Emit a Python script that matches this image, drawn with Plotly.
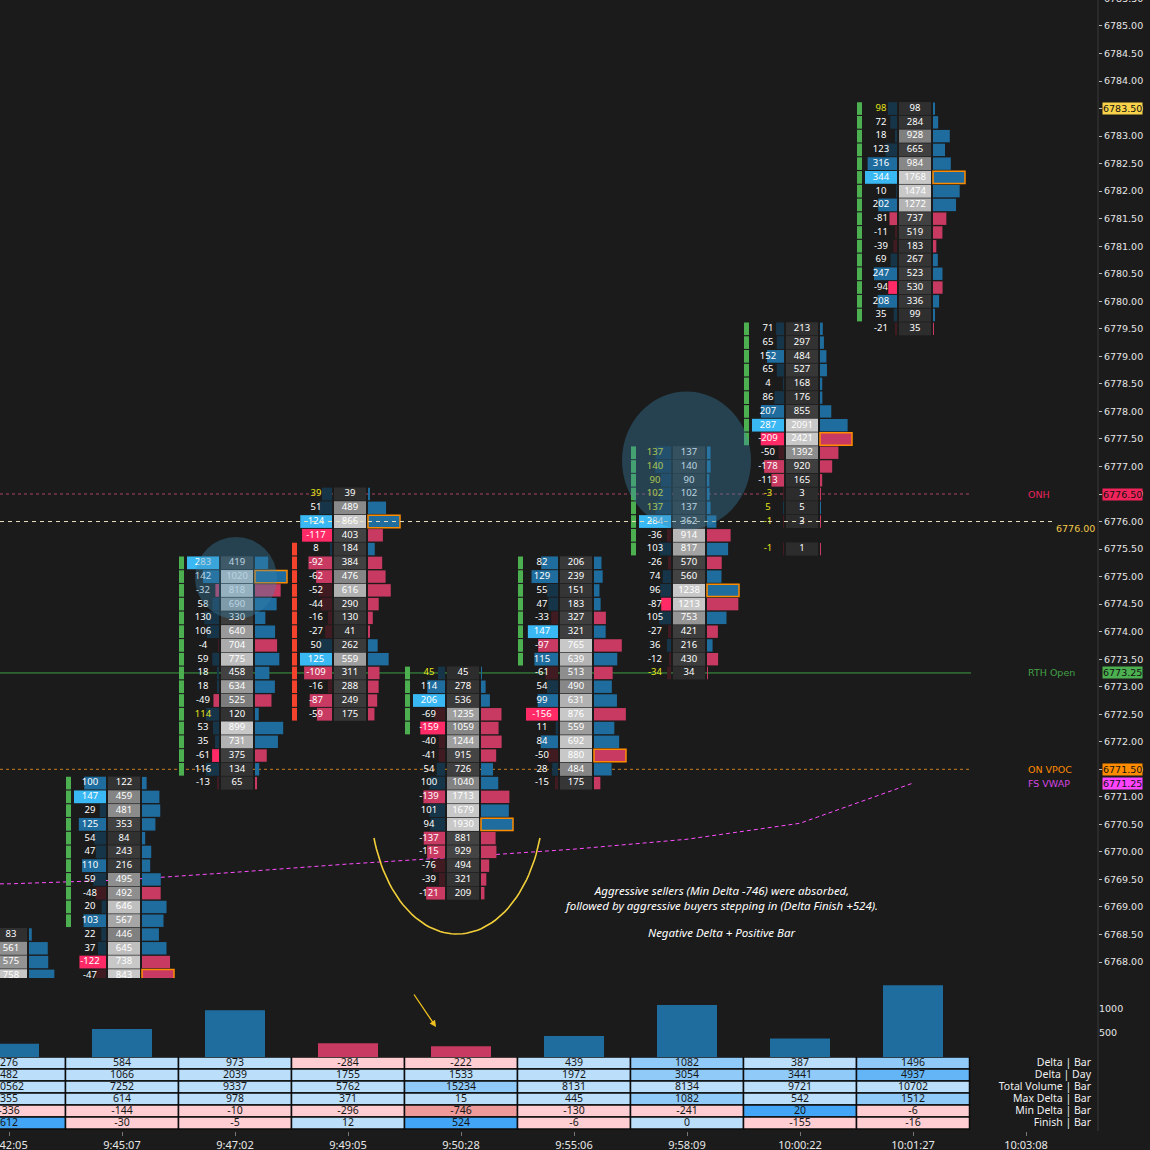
import numpy as np
import plotly.graph_objects as go

# ---------------- data ----------------
TIMES = ["9:42:05", "9:45:07", "9:47:02", "9:49:05", "9:50:28",
         "9:55:06", "9:58:09", "10:00:22", "10:01:27", "10:03:08"]


def ladder(top, n):
    return [round(top - 0.25 * k, 2) for k in range(n)]


# bar 0 (only its volume column is on screen)
B0_PRICE = ladder(6768.50, 5)
B0_DELTA = [None, None, None, None, None]
B0_SIGN = [1, 1, 1, 1, 1]
B0_VOL = [83, 561, 575, 758, 957]
B0_OC = None

B1_PRICE = ladder(6771.25, 16)
B1_DELTA = [100, 147, 29, 125, 54, 47, 110, 59, -48, 20, 103, 22, 37, -122, -47, -52]
B1_VOL = [122, 459, 481, 353, 84, 243, 216, 495, 492, 646, 567, 446, 645, 738, 843, 422]
B1_OC = (6768.75, 6771.25)

B2_PRICE = ladder(6775.25, 17)
B2_DELTA = [283, 142, -32, 58, 130, 106, -4, 59, 18, 18, -49, 114, 53, 35, -61, 116, -13]
B2_VOL = [419, 1020, 818, 690, 330, 640, 704, 775, 458, 634, 525, 120, 899, 731, 375, 134, 65]
B2_OC = (6771.50, 6775.25)

B3_PRICE = ladder(6776.50, 17)
B3_DELTA = [39, 51, 124, -117, 8, -92, -62, -52, -44, -16, -27, 50, 125, -109, -16, -87, -59]
B3_VOL = [39, 489, 866, 403, 184, 384, 476, 616, 290, 130, 41, 262, 559, 311, 288, 249, 175]
B3_OC = (6775.50, 6772.50)

B4_PRICE = ladder(6773.25, 17)
B4_DELTA = [45, 114, 206, -69, -159, -40, -41, 54, 100, -139, 101, 94, -137, -115, -76, -39, -121]
B4_VOL = [45, 278, 536, 1235, 1059, 1244, 915, 726, 1040, 1713, 1679, 1930, 881, 929, 494, 321, 209]
B4_OC = (6772.25, 6773.25)

B5_PRICE = ladder(6775.25, 17)
B5_DELTA = [82, 129, 55, 47, -33, 147, -97, 115, -61, 54, 99, -156, 11, 84, -50, 28, -15]
B5_VOL = [206, 239, 151, 183, 327, 321, 765, 639, 513, 490, 631, 876, 559, 692, 880, 484, 175]
B5_OC = (6773.50, 6775.25)

B6_PRICE = ladder(6777.25, 17)
B6_DELTA = [137, 140, 90, 102, 137, 284, -36, 103, -26, 74, 96, -87, 105, -27, 36, -12, -34]
B6_VOL = [137, 140, 90, 102, 137, 362, 914, 817, 570, 560, 1238, 1213, 753, 421, 216, 430, 34]
B6_OC = (6775.50, 6777.25)

B7_PRICE = ladder(6779.50, 15) + [6775.50]
B7_DELTA = [71, 65, 152, 65, 4, 86, 207, 287, -209, -50, -178, -113, -3, 5, -1, -1]
B7_VOL = [213, 297, 484, 527, 168, 176, 855, 2091, 2421, 1392, 920, 165, 3, 5, 3, 1]
B7_OC = (6777.50, 6779.50)

B8_PRICE = ladder(6783.50, 17)
B8_DELTA = [98, 72, 18, 123, 316, 344, 10, 202, -81, -11, -39, 69, 247, -94, 208, 35, -21]
B8_VOL = [98, 284, 928, 665, 984, 1768, 1474, 1272, 737, 519, 183, 267, 523, 530, 336, 99, 35]
B8_OC = (6779.75, 6783.50)

# statistics table
DELTA_BAR = [276, 584, 973, -284, -222, 439, 1082, 387, 1496]
DELTA_DAY = [482, 1066, 2039, 1755, 1533, 1972, 3054, 3441, 4937]
TOTAL_VOL = [10562, 7252, 9337, 5762, 15234, 8131, 8134, 9721, 10702]
MAX_DELTA = [355, 614, 978, 371, 15, 445, 1082, 542, 1512]
MIN_DELTA = [-336, -144, -10, -296, -746, -130, -241, 20, -6]
FINISH = [612, -30, -5, 12, 524, -6, 0, -155, -16]
TABLE_LABELS = ["Delta | Bar", "Delta | Day", "Total Volume | Bar",
                "Max Delta | Bar", "Min Delta | Bar", "Finish | Bar"]

# session VWAP at each bar
VWAP = [6769.42, 6769.49, 6769.63, 6769.78, 6769.91, 6770.05, 6770.23, 6770.52, 6771.25]

ONH = 6776.50
RTH_OPEN = 6773.25
ON_VPOC = 6771.50
FS_VWAP = 6771.25
LAST = 6783.50
LEVEL_LINE = 6776.00

# ---------------- style ----------------
BG = "#1b1b1b"
PXB = 113.0  # pixels per bar slot


def ux(px):
    return px / PXB


X_LO, X_HI = -9 / PXB, 1089 / PXB
Y_LO, Y_HI = 6767.492, 6785.472

FP_FONT = "Noto Sans"
AX_FONT = "DejaVu Sans"
POS_PROF, NEG_PROF = "#1f6d9e", "#c93a62"
D_BRIGHT = ("#3ab8f3", "#ff2a66")
D_MED = ("#1f6d9e", "#c93a62")
D_DARK = ("#173549", "#401b22")


def gray(r):
    if r < 0.5:
        g = 44 + r * 50
    else:
        g = 120 + min(1.0, (r - 0.5) / 0.3) * 80
    g = int(round(g))
    return f"rgb({g},{g},{g})"


bars = [
    (B0_PRICE, B0_DELTA, B0_VOL, B0_OC),
    (B1_PRICE, B1_DELTA, B1_VOL, B1_OC),
    (B2_PRICE, B2_DELTA, B2_VOL, B2_OC),
    (B3_PRICE, B3_DELTA, B3_VOL, B3_OC),
    (B4_PRICE, B4_DELTA, B4_VOL, B4_OC),
    (B5_PRICE, B5_DELTA, B5_VOL, B5_OC),
    (B6_PRICE, B6_DELTA, B6_VOL, B6_OC),
    (B7_PRICE, B7_DELTA, B7_VOL, B7_OC),
    (B8_PRICE, B8_DELTA, B8_VOL, B8_OC),
]

cells = {k: dict(y=[], base=[], x=[], c=[]) for k in ["vol", "prof", "delta", "strip", "poc"]}
dtext = dict(x=[], y=[], t=[], c=[])
vtext = dict(x=[], y=[], t=[])


def add(kind, y, x0, length, color):
    cells[kind]["y"].append(y)
    cells[kind]["base"].append(x0)
    cells[kind]["x"].append(length)
    cells[kind]["c"].append(color)


for i, (P, D, V, oc) in enumerate(bars):
    T = float(i)
    vmax = max(V)
    ds = [d for d in D if d is not None]
    if ds:
        maxabs = max(abs(d) for d in ds)
        pext, next_ = max(ds), min(ds)
    for k, (p, d, v) in enumerate(zip(P, D, V)):
        r = v / vmax
        add("vol", p, T + ux(-14), ux(32), gray(r))
        vtext["x"].append(T + ux(2))
        vtext["y"].append(p)
        vtext["t"].append(str(v))
        sgn = d if d is not None else B0_SIGN[k]
        add("prof", p, T + ux(20), ux(32 * r), POS_PROF if sgn >= 0 else NEG_PROF)
        if v == vmax:
            add("poc", p, T + ux(20), ux(32), "rgba(0,0,0,0)")
        if d is not None:
            L = 32 * abs(d) / maxabs
            s = 0 if d >= 0 else 1
            ext = pext if d >= 0 else next_
            rr = abs(d) / abs(ext) if ext != 0 else 0
            if rr >= 0.97:
                col = D_BRIGHT[s]
            elif rr >= 0.5:
                col = D_MED[s]
            else:
                col = D_DARK[s]
            add("delta", p, T + ux(-16 - L), ux(L), col)
            dtext["x"].append(T + ux(-32))
            dtext["y"].append(p)
            dtext["t"].append(str(d))
            dtext["c"].append("#e6e619" if (v <= 5 or abs(d) >= 0.9 * v) else "#ffffff")
        if oc is not None and min(oc) <= p <= max(oc):
            add("strip", p, T + ux(-56), ux(5), "#4caf50" if oc[1] >= oc[0] else "#f4432c")

fig = go.Figure()

thick = {"vol": 0.238, "prof": 0.225, "delta": 0.232, "strip": 0.23, "poc": 0.225}
for kind in ["strip", "delta", "vol", "prof", "poc"]:
    c = cells[kind]
    line = dict(width=0)
    if kind == "poc":
        line = dict(width=1.5, color="#ff8c00")
    fig.add_trace(go.Bar(orientation="h", y=c["y"], x=c["x"], base=c["base"],
                         width=thick[kind], marker=dict(color=c["c"], line=line),
                         hoverinfo="skip", xaxis="x", yaxis="y"))

fig.add_trace(go.Scatter(x=dtext["x"], y=dtext["y"], text=dtext["t"], mode="text",
                         textposition="middle center",
                         textfont=dict(family=FP_FONT, size=9.5, color=dtext["c"]),
                         hoverinfo="skip", xaxis="x", yaxis="y"))
fig.add_trace(go.Scatter(x=vtext["x"], y=vtext["y"], text=vtext["t"], mode="text",
                         textposition="middle center",
                         textfont=dict(family=FP_FONT, size=9.5, color="#ffffff"),
                         hoverinfo="skip", xaxis="x", yaxis="y"))

# delta histogram
idx = list(range(len(DELTA_BAR)))
fig.add_trace(go.Bar(x=idx, y=[abs(v) for v in DELTA_BAR], width=ux(60),
                     marker=dict(color=[POS_PROF if v >= 0 else NEG_PROF for v in DELTA_BAR], line=dict(width=0)),
                     hoverinfo="skip", xaxis="x", yaxis="y2"))

# statistics table
TABLE = [DELTA_BAR, DELTA_DAY, TOTAL_VOL, MAX_DELTA, MIN_DELTA, FINISH]
POS_REF = [1800, 5200, 21000, 1800, 20, 540]
NEG_REF = [1800, 5200, 21000, 1800, 750, 540]


def tcolor(v, row):
    if v >= 0:
        r = v / POS_REF[row]
        if r < 0.55:
            return "#bbdefb"
        if r < 0.9:
            return "#90caf9"
        if r < 0.97:
            return "#64b5f6"
        return "#42a5f5"
    r = -v / NEG_REF[row]
    return "#ffcdd2" if r < 0.9 else "#ef9a9a"


ty, tb, tx, tc, tt, ttx = [], [], [], [], [], []
for r, row in enumerate(TABLE):
    for i, v in enumerate(row):
        ty.append(r + 0.5)
        tb.append(i - 0.5)
        tx.append(1.0)
        tc.append(tcolor(v, r))
        tt.append(str(v))
        ttx.append(i)
fig.add_trace(go.Bar(orientation="h", y=ty, x=tx, base=tb, width=1.0,
                     marker=dict(color=tc, line=dict(width=1.5, color="#0c0c0c")),
                     hoverinfo="skip", xaxis="x", yaxis="y3"))
fig.add_trace(go.Scatter(x=ttx, y=ty, text=tt, mode="text", textposition="middle center",
                         textfont=dict(family=FP_FONT, size=10.5, color="#151515"),
                         hoverinfo="skip", xaxis="x", yaxis="y3"))
fig.add_trace(go.Scatter(x=[ux(1091 - 9)] * 6, y=[r + 0.5 for r in range(6)], text=TABLE_LABELS,
                         mode="text", textposition="middle left",
                         textfont=dict(family=FP_FONT, size=10.5, color="#f0f0f0"),
                         hoverinfo="skip", xaxis="x", yaxis="y3"))

# yellow arc around bar 4's lows (decoration)
cx, cy_px, rx_px, ry_px = 457, 800, 86.55, 134
th0 = np.arcsin(38 / ry_px)
th = np.linspace(th0, np.pi - th0, 60)
arc_x = (cx + rx_px * np.cos(th) - 9) / PXB
arc_y = 6785 - ((cy_px + ry_px * np.sin(th)) - 26) / 55.06
fig.add_trace(go.Scatter(x=arc_x, y=arc_y, mode="lines", line=dict(color="#f2cf3a", width=1.6),
                         hoverinfo="skip", xaxis="x", yaxis="y"))

# ---------------- shapes ----------------
shapes = []
line_end = 8 + ux(58)
for lvl, col, dash in [(ONH, "#a94461", "dot"), (RTH_OPEN, "#3f9f45", "solid"), (ON_VPOC, "#c9801f", "dot")]:
    shapes.append(dict(type="line", xref="x", yref="y", x0=X_LO, x1=line_end, y0=lvl, y1=lvl,
                       line=dict(color=col, width=1, dash=dash), layer="below"))
# VWAP path
vx = [X_LO] + list(range(len(VWAP)))
vy = [VWAP[0]] + VWAP
path = "M " + " L ".join(f"{a},{b}" for a, b in zip(vx, vy))
shapes.append(dict(type="path", xref="x", yref="y", path=path,
                   line=dict(color="#ff4dff", width=1, dash="4px,3px"), layer="below"))
# horizontal level line
shapes.append(dict(type="line", xref="x", yref="y", x0=X_LO, x1=ux(1056 - 9), y0=LEVEL_LINE, y1=LEVEL_LINE,
                   line=dict(color="#ebe4bd", width=1, dash="4px,4px"), layer="above"))
# translucent highlight circles
for cxp, cyp, rxp, ryp in [(236, 578, 41, 41), (686.5, 460.5, 64.5, 69)]:
    shapes.append(dict(type="circle", xref="x", yref="y",
                       x0=(cxp - rxp - 9) / PXB, x1=(cxp + rxp - 9) / PXB,
                       y0=6785 - (cyp + ryp - 26) / 55.06, y1=6785 - (cyp - ryp - 26) / 55.06,
                       fillcolor="rgba(58,133,176,0.36)", line=dict(width=0), layer="above"))
# right axis separator
shapes.append(dict(type="line", xref="paper", yref="paper", x0=1, x1=1, y0=0, y1=1,
                   line=dict(color="#3a3a3a", width=1)))

# ---------------- annotations ----------------
ann = []
for lvl, bg, txt, tcol in [(LAST, "#f8d34a", None, None), (ONH, "#f0245a", "ONH", "#e8245f"),
                           (RTH_OPEN, "#4caf50", "RTH Open", "#43a047"),
                           (ON_VPOC, "#ff8c00", "ON VPOC", "#ff8a00"),
                           (FS_VWAP, "#ff44ff", "FS VWAP", "#d447e0")]:
    ann.append(dict(xref="paper", yref="y", x=1, y=lvl, xanchor="left", yanchor="middle", xshift=4,
                    showarrow=False, text=f"{lvl:.2f}", bgcolor=bg, borderpad=0,
                    font=dict(family=AX_FONT, size=9.5, color="#111111")))
    if txt:
        ann.append(dict(xref="x", yref="y", x=9.0, y=lvl, xanchor="left", yanchor="middle", showarrow=False,
                        text=txt, font=dict(family=AX_FONT, size=9.5, color=tcol)))
# partially visible top tick label (6785.50 sits just above the top edge)
top_tick = 6785.50
ann.append(dict(xref="paper", yref="paper", x=1, y=1 + (top_tick - Y_HI) * 55.06 / 1131,
                xanchor="left", yanchor="middle", xshift=4, showarrow=False, text=f"{top_tick:.2f}",
                font=dict(family=AX_FONT, size=9.5, color="#e6e6e6")))
ann.append(dict(xref="paper", yref="y", x=1, y=LEVEL_LINE, xanchor="right", yanchor="middle",
                yshift=-7, xshift=-1, showarrow=False, text=f"{LEVEL_LINE:.2f}",
                font=dict(family=AX_FONT, size=9.5, color="#f3c84a")))
ann.append(dict(xref="paper", yref="paper", x=721 / 1098, y=(1131 - 898) / 1131,
                xanchor="center", yanchor="middle", showarrow=False,
                text=f"<i>Aggressive sellers (Min Delta {MIN_DELTA[4]}) were absorbed,<br>"
                     f"followed by aggressive buyers stepping in (Delta Finish +{FINISH[4]}).</i>",
                font=dict(family=FP_FONT, size=11.5, color="#ffffff")))
ann.append(dict(xref="paper", yref="paper", x=721 / 1098, y=(1131 - 933) / 1131,
                xanchor="center", yanchor="middle", showarrow=False,
                text="<i>Negative Delta + Positive Bar</i>",
                font=dict(family=FP_FONT, size=11.5, color="#ffffff")))
ann.append(dict(xref="paper", yref="paper", x=436 / 1098, y=(1131 - 1027) / 1131, ax=-23, ay=-34,
                showarrow=True, arrowhead=2, arrowsize=1, arrowwidth=1.3, arrowcolor="#f0c020", text=""))

ticks = np.arange(6768.0, 6785.01, 0.5)
fig.update_layout(
    width=1150, height=1150, margin=dict(l=0, r=52, t=0, b=19, autoexpand=False),
    paper_bgcolor=BG, plot_bgcolor=BG, barmode="overlay", showlegend=False,
    shapes=shapes, annotations=ann,
    xaxis=dict(range=[X_LO, X_HI], tickvals=list(range(len(TIMES))), ticktext=TIMES, anchor="y3",
               ticks="outside", ticklen=4, tickcolor="#777777", showgrid=False, zeroline=False,
               showline=False, ticklabeloverflow="allow", automargin=False,
               tickfont=dict(family=FP_FONT, size=11, color="#e8e8e8")),
    yaxis=dict(domain=[(1131 - 990) / 1131, 1], range=[Y_LO, Y_HI], side="right", anchor="x",
               tickvals=list(ticks), ticktext=[f"{v:.2f}" for v in ticks], ticks="outside", ticklen=3,
               tickcolor="#bbbbbb", showgrid=False, zeroline=False, ticklabeloverflow="allow",
               automargin=False, tickfont=dict(family=AX_FONT, size=9.5, color="#e6e6e6")),
    yaxis2=dict(domain=[(1131 - 1057) / 1131, (1131 - 978) / 1131], range=[0, 79 / 24 * 500],
                side="right", anchor="x", tickvals=[500, 1000], ticks="", showgrid=False,
                zeroline=False, automargin=False,
                tickfont=dict(family=AX_FONT, size=9.5, color="#e6e6e6")),
    yaxis3=dict(domain=[0, (1131 - 1057) / 1131], range=[74 / 12, 0], anchor="x", visible=False,
                showgrid=False, zeroline=False, automargin=False),
)

fig.write_html("out.html", config={"displayModeBar": False},
               post_script="document.body.style.margin='0';document.body.style.padding='0';"
                           "document.body.style.background='" + BG + "';")
